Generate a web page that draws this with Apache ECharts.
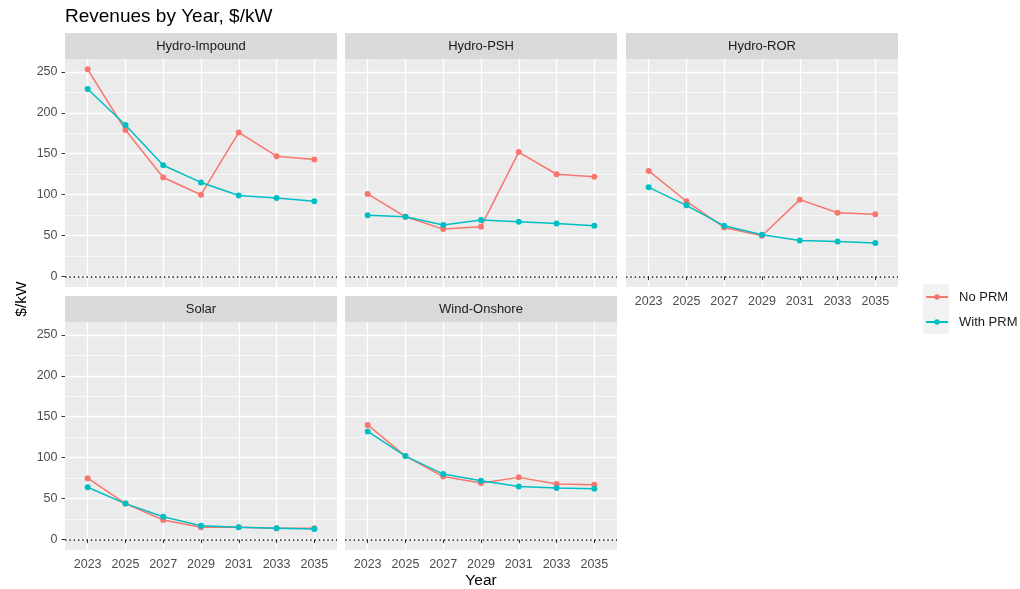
<!DOCTYPE html>
<html>
<head>
<meta charset="utf-8">
<script src="https://cdn.jsdelivr.net/npm/echarts@6/dist/echarts.min.js"></script>
<style>
  html, body { margin: 0; padding: 0; background: #ffffff; }
  #chart { width: 1020px; height: 589px; }
</style>
</head>
<body>
<div id="chart"></div>
<script>
// Revenue data, $/kW, by study year
const years = [2023, 2025, 2027, 2029, 2031, 2033, 2035];
const technologies = ['Hydro-Impound', 'Hydro-PSH', 'Hydro-ROR', 'Solar', 'Wind-Onshore'];
const scenarios = ['No PRM', 'With PRM'];

const impoundNoPrm   = [253, 179, 121, 100, 176, 147, 143];
const impoundWithPrm = [229, 185, 136, 115, 99, 96, 92];
const pshNoPrm       = [101, 73, 58, 61, 152, 125, 122];
const pshWithPrm     = [75, 73, 63, 69, 67, 65, 62];
const rorNoPrm       = [129, 92, 60, 50, 94, 78, 76];
const rorWithPrm     = [109, 87, 62, 51, 44, 43, 41];
const solarNoPrm     = [75, 44, 24, 15, 15, 14, 14];
const solarWithPrm   = [64, 44, 28, 17, 15, 14, 13];
const windNoPrm      = [140, 102, 77, 69, 76, 68, 67];
const windWithPrm    = [132, 102, 80, 72, 65, 63, 62];

const yTicks = [0, 50, 100, 150, 200, 250];
const yMinorTicks = [25, 75, 125, 175, 225];

const panelValues = [
  [impoundNoPrm, impoundWithPrm],
  [pshNoPrm, pshWithPrm],
  [rorNoPrm, rorWithPrm],
  [solarNoPrm, solarWithPrm],
  [windNoPrm, windWithPrm]
];

// Facet layout (pixels)
const FONT = '"Liberation Sans", Arial, sans-serif';
const panelW = 272, panelH = 228, stripH = 26;
const panelLeft = [65, 345, 626, 65, 345];
const panelTop = [59, 59, 59, 322, 322];
const showYLabels = [true, false, false, true, false];
const showXLabels = [false, false, true, true, true];
const colors = ['#F8766D', '#00BFC4'];

// Continuous y range padded 5% like the facet default; discrete x padded 0.6 step
const yMin = -12.65, yMax = 265.65;
const xMin = 2021.8, xMax = 2036.2;

const grids = [], xAxes = [], yAxes = [], series = [], graphics = [];

technologies.forEach((tech, i) => {
  grids.push({
    left: panelLeft[i], top: panelTop[i], width: panelW, height: panelH,
    outerBoundsMode: 'none', containLabel: false,
    show: true, backgroundColor: '#EBEBEB', borderWidth: 0
  });

  xAxes.push({
    gridIndex: i, type: 'value', min: xMin, max: xMax,
    axisLine: { show: false },
    axisTick: { show: showXLabels[i], length: 3.5, customValues: years,
                lineStyle: { color: '#333333', width: 1 } },
    axisLabel: { show: showXLabels[i], customValues: years, color: '#4D4D4D',
                 fontSize: 12.5, fontFamily: FONT, margin: 8,
                 formatter: v => String(v) },
    splitLine: { show: true, lineStyle: { color: '#FFFFFF', width: 1.3 } }
  });

  // major grid + labels
  yAxes.push({
    gridIndex: i, type: 'value', min: yMin, max: yMax, position: 'left',
    axisLine: { show: false },
    axisTick: { show: showYLabels[i], length: 3.5, customValues: yTicks,
                lineStyle: { color: '#333333', width: 1 } },
    axisLabel: { show: showYLabels[i], customValues: yTicks, color: '#4D4D4D',
                 fontSize: 12.5, fontFamily: FONT, margin: 7.5 },
    splitLine: { show: true, lineStyle: { color: '#FFFFFF', width: 1.3 } }
  });
  // minor grid lines
  yAxes.push({
    gridIndex: i, type: 'value', min: yMin, max: yMax, position: 'right',
    axisLine: { show: false },
    axisTick: { show: false, customValues: yMinorTicks },
    axisLabel: { show: false, customValues: yMinorTicks },
    splitLine: { show: true, lineStyle: { color: '#FFFFFF', width: 0.6 } }
  });

  scenarios.forEach((name, s) => {
    const values = panelValues[i][s];
    const serie = {
      name, type: 'line',
      xAxisIndex: i, yAxisIndex: i * 2,
      data: years.map((yr, k) => [yr, values[k]]),
      symbol: 'circle', symbolSize: 6,
      itemStyle: { color: colors[s] },
      lineStyle: { color: colors[s], width: 1.5 },
      emphasis: { disabled: true },
      z: 3 + s
    };
    if (s === 0) {
      serie.markLine = {
        silent: true, symbol: 'none', animation: false,
        label: { show: false },
        lineStyle: { color: '#222222', width: 1.5, type: [1.5, 2.8] },
        data: [{ yAxis: 0 }]
      };
    }
    series.push(serie);
  });

  // facet strip
  graphics.push({
    type: 'group', x: panelLeft[i], y: panelTop[i] - stripH,
    children: [
      { type: 'rect', shape: { x: 0, y: 0, width: panelW, height: stripH },
        style: { fill: '#D9D9D9' } },
      { type: 'text', x: panelW / 2, y: stripH / 2,
        style: { text: tech, align: 'center', verticalAlign: 'middle',
                 fill: '#1A1A1A', font: '13px ' + FONT } }
    ]
  });
});

// axis titles
graphics.push({
  type: 'text', x: 22, y: 299, rotation: Math.PI / 2,
  style: { text: '$/kW', align: 'center', verticalAlign: 'middle',
           fill: '#000000', font: '15.5px ' + FONT }
});
graphics.push({
  type: 'text', x: panelLeft[4] + panelW / 2, y: 581,
  style: { text: 'Year', align: 'center', verticalAlign: 'middle',
           fill: '#000000', font: '15.5px ' + FONT }
});
// legend key background
graphics.push({
  type: 'rect', shape: { x: 923, y: 284, width: 26, height: 50 },
  style: { fill: '#F2F2F2' }, z: -1
});

const chart = echarts.init(document.getElementById('chart'), null, { renderer: 'canvas' });
chart.setOption({
  animation: false,
  backgroundColor: '#FFFFFF',
  title: {
    text: 'Revenues by Year, $/kW', left: 65, top: 7, padding: 0,
    textStyle: { fontSize: 19, fontWeight: 'normal', color: '#000000', fontFamily: FONT }
  },
  legend: {
    data: scenarios, orient: 'vertical', left: 925, top: 290,
    itemWidth: 22, itemHeight: 7, itemGap: 11, padding: 0,
    textStyle: { fontSize: 13, lineHeight: 14, color: '#1A1A1A', fontFamily: FONT,
                 padding: [0, 0, 0, 6] }
  },
  grid: grids,
  xAxis: xAxes,
  yAxis: yAxes,
  series: series,
  graphic: graphics
});
</script>
</body>
</html>
